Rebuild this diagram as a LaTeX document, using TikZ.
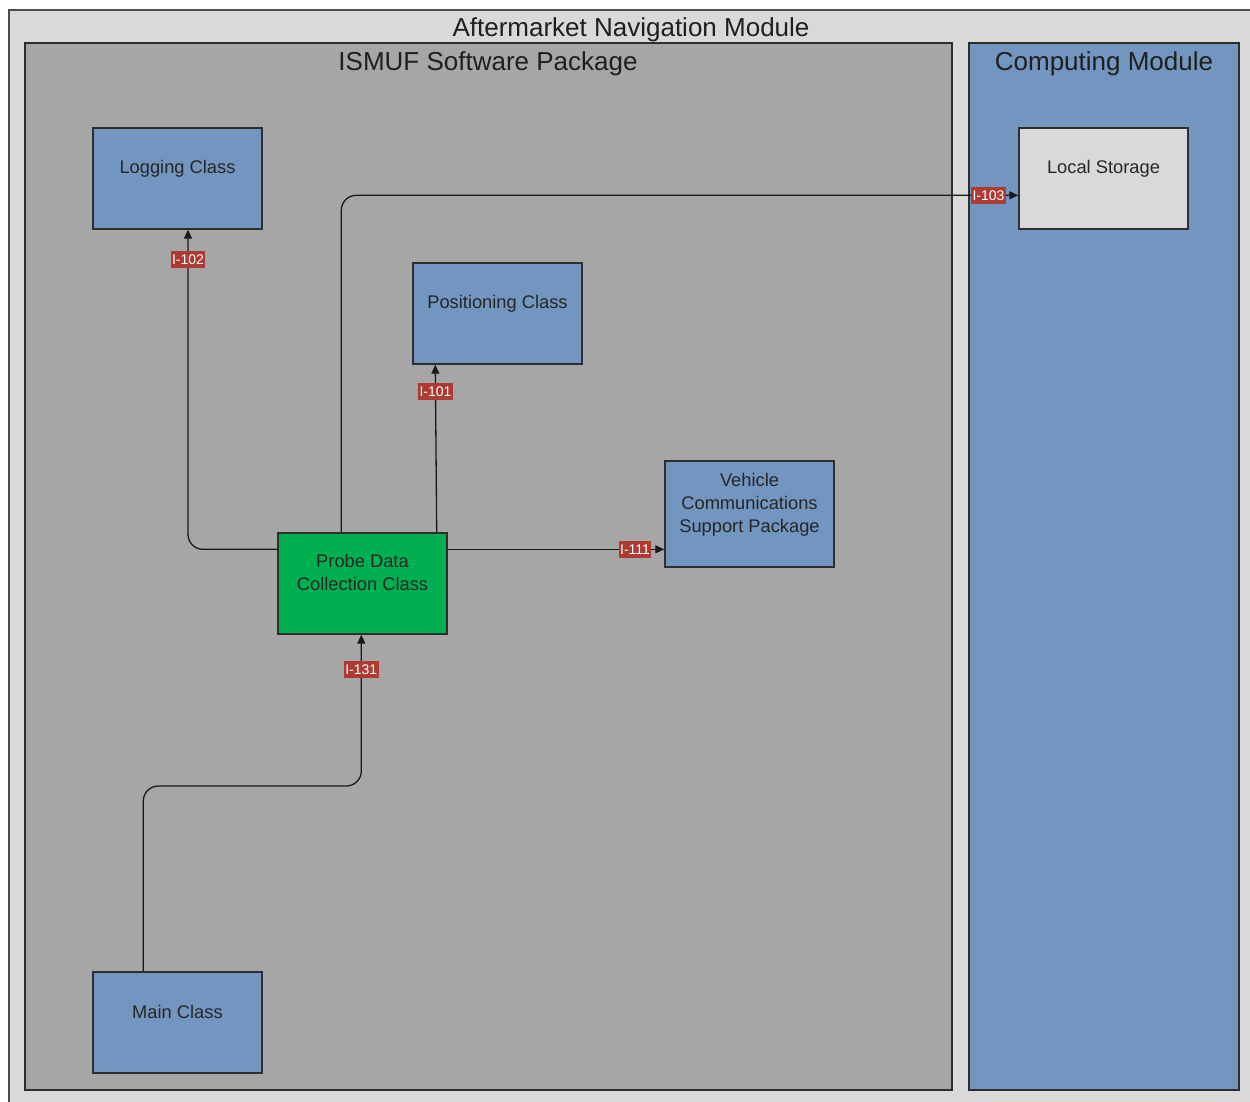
\documentclass[tikz,border=0pt]{standalone}
\usepackage{fontspec}
\setmainfont{Liberation Sans}
\usetikzlibrary{arrows.meta}

\definecolor{frameGray}{HTML}{D9D9D9}
\definecolor{pkgGray}{HTML}{A6A6A6}
\definecolor{clsBlue}{HTML}{7396C1}
\definecolor{probeGreen}{HTML}{00B050}
\definecolor{tagRed}{HTML}{AE3B33}
\definecolor{edgeDark}{HTML}{2E2E2E}

\tikzset{
  container/.style={draw=edgeDark, line width=1.5pt},
  cls/.style={draw=edgeDark, line width=1.4pt, fill=clsBlue,
    minimum width=169pt, minimum height=101pt, inner sep=0pt},
  clstext/.style={font=\fontsize{18.3}{23}\selectfont, text=black!85, align=center},
  titletext/.style={font=\fontsize{26}{30}\selectfont, text=black!88},
  conn/.style={draw=black!90, line width=1.3pt, rounded corners=15pt,
    -{Triangle[length=9pt,width=8pt]}},
  tag/.style={sharp corners, rectangle, fill=tagRed, text=white,
    font=\fontsize{14}{16}\selectfont,
    inner xsep=1.5pt, inner ysep=0pt, minimum height=17pt}
}

\begin{document}
\begin{tikzpicture}[x=1pt,y=-1pt]
  \useasboundingbox (0,0) rectangle (1250,1102);
  \fill[white] (0,0) rectangle (1250,1102);
  \clip (0,0) rectangle (1250,1102);

  % outer module frame
  \draw[container, fill=frameGray, draw=black!70] (9,10) rectangle (1275,1125);
  \node[titletext] (modtitle) at (631,30) {Aftermarket Navigation Module};

  % software package and computing module
  \draw[container, fill=pkgGray] (25,43) rectangle (952,1090);
  \node[titletext] (pkgtitle) at (488,64) {ISMUF Software Package};
  \draw[container, fill=clsBlue] (969,43) rectangle (1239,1090);
  \node[titletext] (comptitle) at (1104,64) {Computing Module};

  % classes
  \node[cls] (log) at (177.5,178.5) {};
  \node[clstext] at ([yshift=-41pt]log.north) {Logging Class};

  \node[cls] (posc) at (497.5,313.5) {};
  \node[clstext] at ([yshift=-41pt]posc.north) {Positioning Class};

  \node[cls, minimum height=106pt] (veh) at (749.5,514) {};
  \node[clstext] at ([yshift=-44pt]veh.north) {Vehicle\\Communications\\Support Package};

  \node[cls, fill=probeGreen] (probe) at (362.5,583.5) {};
  \node[clstext] at ([yshift=-40.5pt]probe.north) {Probe Data\\Collection Class};

  \node[cls] (main) at (177.5,1022.5) {};
  \node[clstext] at ([yshift=-41pt]main.north) {Main Class};

  \node[cls, fill=frameGray] (store) at (1103.5,178.5) {};
  \node[clstext] at ([yshift=-41pt]store.north) {Local Storage};

  % interfaces
  \draw[conn] ([yshift=-17pt]probe.north west) -| node[tag, pos=0.953] {I-102}
    ([xshift=10.5pt]log.south);

  \draw[conn] ([xshift=-11pt]probe.north east) -- node[tag, pos=0.84] {I-101}
    ([xshift=23pt]posc.south west);

  \draw[conn] ([xshift=64pt]probe.north west) |- node[tag, pos=0.978] {I-103}
    ([yshift=-68pt]store.north west);

  \draw[conn] ([yshift=-17pt]probe.north east) -- node[tag, pos=0.865] {I-111}
    ([yshift=-89pt]veh.north west);

  \coordinate (jog131) at (250,786);
  \draw[conn] ([xshift=51pt]main.north west) |- (jog131) -| node[tag, pos=0.885] {I-131}
    ([xshift=84pt]probe.south west);
\end{tikzpicture}
\end{document}
